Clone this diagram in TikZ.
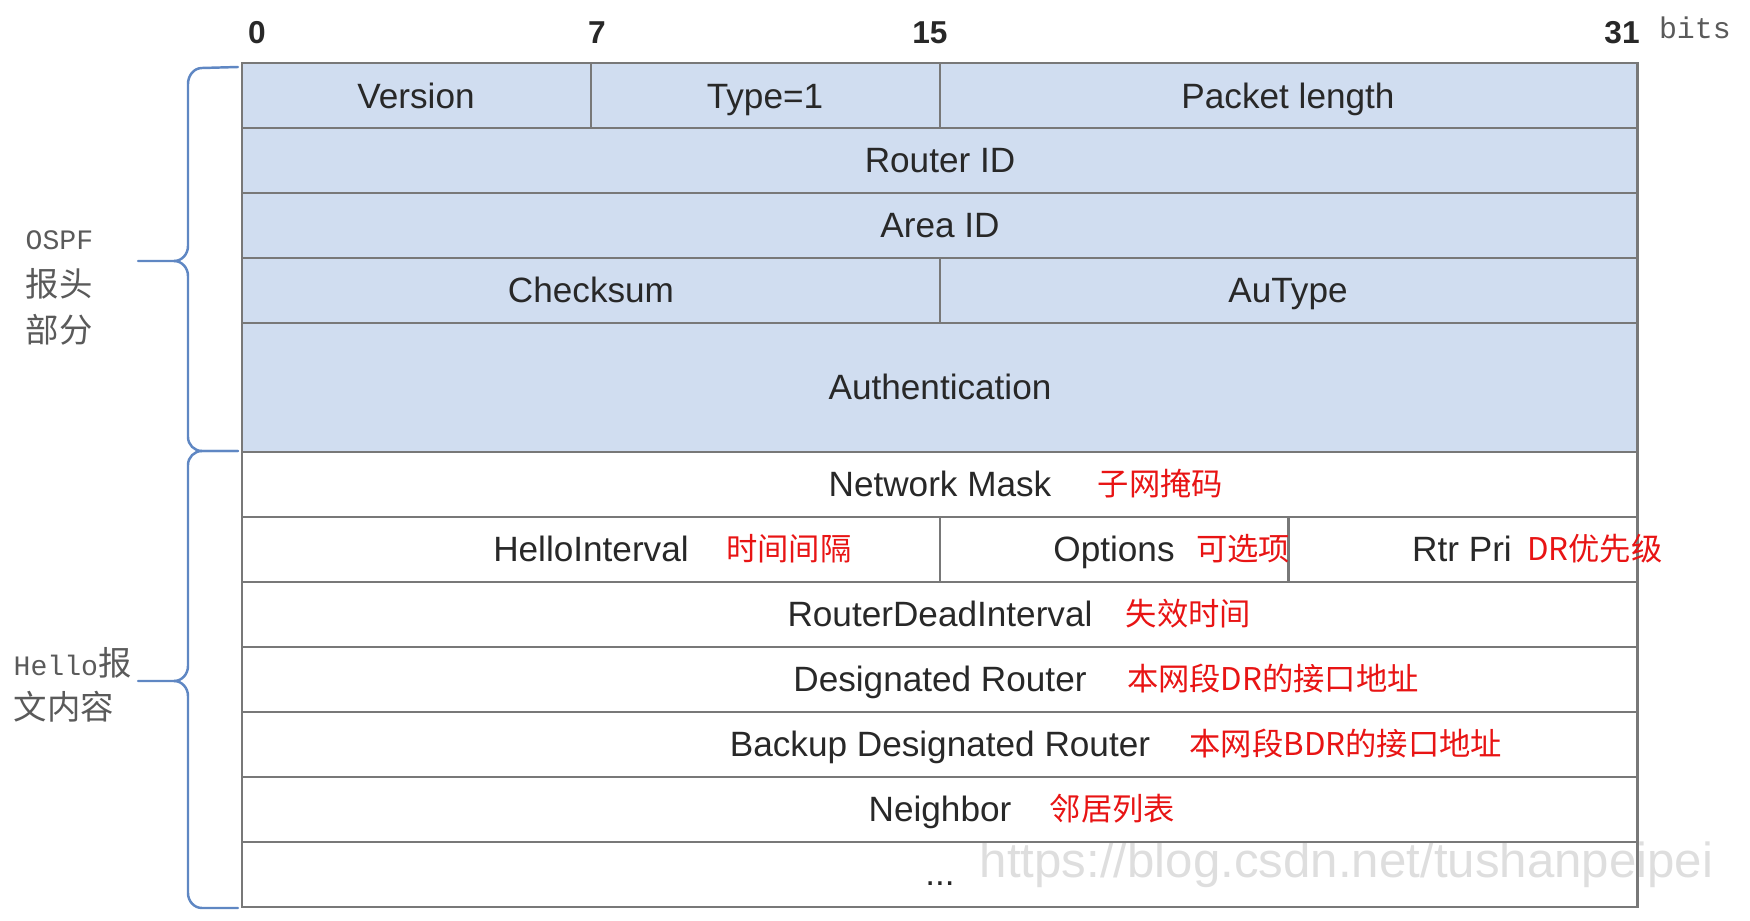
\documentclass[tikz,border=0pt]{standalone}
\usepackage{fontspec}
\setmainfont{Liberation Sans}
\newfontfamily\cjk{Noto Sans CJK SC}
\newfontfamily\monofnt{Liberation Mono}
\usetikzlibrary{positioning}

\definecolor{hdrblue}{RGB}{208,221,240}
\definecolor{linegray}{RGB}{120,120,120}
\definecolor{bracecol}{RGB}{95,135,195}
\definecolor{txtdark}{RGB}{40,40,40}
\definecolor{notered}{RGB}{232,20,20}
\definecolor{sidegray}{RGB}{90,90,90}
\definecolor{wmgray}{RGB}{222,222,222}

\begin{document}
\begin{tikzpicture}[x=0.01cm, y=-0.01cm,
    cell/.style={draw=linegray, line width=0.85pt},
    hdrcell/.style={cell, fill=hdrblue},
    fieldtxt/.style={inner sep=0pt, text=txtdark, text height=0.716em, text depth=0pt,
      font=\fontsize{10}{12}\selectfont},
    note/.style={inner sep=0pt, text=notered, text height=0.82em, text depth=0.18em,
      font=\cjk\fontsize{8.9}{11}\selectfont},
    bitnum/.style={inner sep=0pt, anchor=base, text=txtdark, font=\bfseries\fontsize{9}{11}\selectfont},
    bitlbl/.style={inner sep=0pt, text=sidegray, font=\monofnt\fontsize{8.5}{10}\selectfont},
    side/.style={inner sep=0pt, anchor=west, align=left, text=sidegray,
      font=\cjk\fontsize{9.5}{13.3}\selectfont},
    wmark/.style={inner sep=0pt, anchor=west, text=wmgray, font=\fontsize{14}{16}\selectfont},
    brace/.style={draw=bracecol, line width=0.7pt, line cap=round}]

  \useasboundingbox (0,0) rectangle (1750,921);

  % bit positions
  \node[bitnum] (b0) at (257,44) {0};
  \node[bitnum] (b7) at (597,44) {7};
  \node[bitnum] (b15) at (930,44) {15};
  \node[bitnum] (b31) at (1622,44) {31};
  \node[bitlbl, base right=1.8mm of b31, yshift=0.5mm] (bits) {bits};

  % OSPF header fields
  \draw[hdrcell] (242,63) rectangle (591,128);
  \draw[hdrcell] (591,63) rectangle (940,128);
  \draw[hdrcell] (940,63) rectangle (1637,128);
  \draw[hdrcell] (242,128) rectangle (1637,193);
  \draw[hdrcell] (242,193) rectangle (1637,258);
  \draw[hdrcell] (242,258) rectangle (940,323);
  \draw[hdrcell] (940,258) rectangle (1637,323);
  \draw[hdrcell] (242,323) rectangle (1637,452);

  \node[wmark] (wm) at (979,865) {https://blog.csdn.net/tushanpeipei};

  % Hello body fields
  \draw[cell] (242,452) rectangle (1637,517);
  \draw[cell] (242,517) rectangle (940,582);
  \draw[cell] (940,517) rectangle (1288,582);
  \draw[cell] (1288,517) rectangle (1637,582);
  \foreach \y in {582,647,712,777,842}
    \draw[cell] (242,\y) rectangle (1637,\y+65);

  \node[fieldtxt] (ver) at (416,96) {Version};
  \node[fieldtxt] (type) at (765,96) {Type=1};
  \node[fieldtxt] (plen) at (1288,96) {Packet length};
  \node[fieldtxt] (rid) at (940,160) {Router ID};
  \node[fieldtxt] (aid) at (940,225) {Area ID};
  \node[fieldtxt] (csum) at (591,290) {Checksum};
  \node[fieldtxt] (autype) at (1288,290) {AuType};
  \node[fieldtxt] (auth) at (940,387) {Authentication};
  \node[fieldtxt] (mask) at (940,484) {Network Mask};
  \node[fieldtxt] (hello) at (591,549) {HelloInterval};
  \node[fieldtxt] (opt) at (1114,549) {Options};
  \node[fieldtxt] (pri) at (1462,549) {Rtr Pri};
  \node[fieldtxt] (dead) at (940,614) {RouterDeadInterval};
  \node[fieldtxt] (dr) at (940,679) {Designated Router};
  \node[fieldtxt] (bdr) at (940,744) {Backup Designated Router};
  \node[fieldtxt] (nbr) at (940,809) {Neighbor};
  \node[fieldtxt, text height=, text depth=] (more) at (940,884) {...};

  % red notes
  \node[note, right=4.5mm of mask] (maskn) {子网掩码};
  \node[note, right=3.6mm of hello] (hellon) {时间间隔};
  \node[note, right=2mm of opt] (optn) {可选项};
  \node[note, right=1.4mm of pri] (prin) {DR优先级};
  \node[note, right=3.2mm of dead] (deadn) {失效时间};
  \node[note, right=3.9mm of dr] (drn) {本网段DR的接口地址};
  \node[note, right=3.8mm of bdr] (bdrn) {本网段BDR的接口地址};
  \node[note, right=3.7mm of nbr] (nbrn) {邻居列表};

  % braces and side labels
  \draw[brace] (238,67) -- (202,68) to[out=180,in=90] (188,84) -- (188,246)
    to[out=-90,in=0] (174,261) -- (138,261);
  \draw[brace] (174,261) to[out=0,in=90] (188,276) -- (188,437)
    to[out=-90,in=180] (202,451) -- (238,451);
  \draw[brace] (238,451) -- (202,451) to[out=180,in=90] (188,465) -- (188,666)
    to[out=-90,in=0] (174,681) -- (138,681);
  \draw[brace] (174,681) to[out=0,in=90] (188,696) -- (188,893)
    to[out=-90,in=180] (202,908) -- (238,908);

  \node[side] (hdrlbl) at (25,288) {{\monofnt\fontsize{8}{13.3}\selectfont OSPF}\\报头\\部分};
  \node[side, font=\cjk\fontsize{9.5}{12.6}\selectfont] (hellolbl) at (13,685)
    {{\monofnt\fontsize{8}{12.6}\selectfont Hello}报\\文内容};
\end{tikzpicture}
\end{document}
